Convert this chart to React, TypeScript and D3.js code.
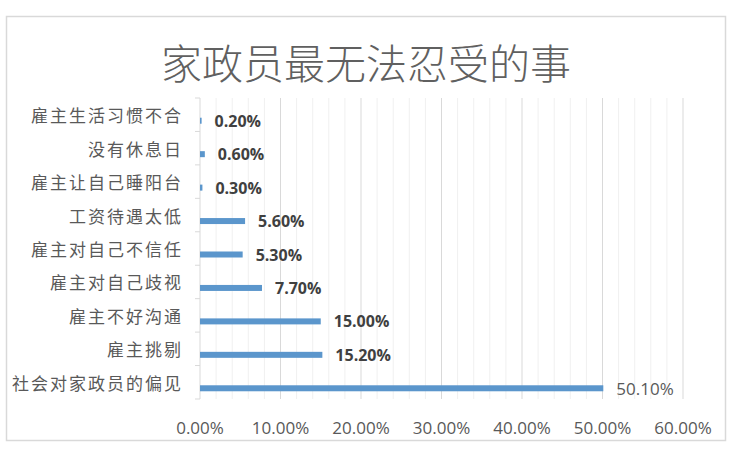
import * as React from 'react';
import { scaleBand, scaleLinear, range } from 'd3';

const categories = [
    '雇主生活习惯不合',
    '没有休息日',
    '雇主让自己睡阳台',
    '工资待遇太低',
    '雇主对自己不信任',
    '雇主对自己歧视',
    '雇主不好沟通',
    '雇主挑剔',
    '社会对家政员的偏见'
];
const values = [0.2, 0.6, 0.3, 5.6, 5.3, 7.7, 15.0, 15.2, 50.1];
const xTicks = [0, 10, 20, 30, 40, 50, 60];
const title = '家政员最无法忍受的事';

const W = 750;
const H = 460;
const plot = { left: 200, right: 683, top: 98, bottom: 399 };

const xScale = scaleLinear().domain([0, 60]).range([plot.left, plot.right]);
const yScale = scaleBand<string>().domain(categories).range([plot.top, plot.bottom]);

const cjk = '"Noto Sans CJK SC", sans-serif';
const latin = '"Open Sans", "Liberation Sans", sans-serif';

const App = () => {
    const bw = yScale.bandwidth();
    const barH = 6;
    const barShift = 6;
    return (
        <svg width={W} height={H} style={{ position: 'absolute', left: 0, top: 0, background: '#fff' }}>
            <rect x={6.5} y={16.5} width={719} height={424} fill="#fff" stroke="#d9d9d9" strokeWidth={1.5} />
            <text x={366} y={61} textAnchor="middle" dominantBaseline="central"
                fontFamily={cjk} fontSize={41} fontWeight={300} fill="#606060">{title}</text>

            {/* minor grid every 2% */}
            {range(0, 61, 2).filter(v => v % 10 !== 0).map(v => (
                <line key={'m' + v} x1={xScale(v)} x2={xScale(v)} y1={plot.top} y2={plot.bottom}
                    stroke="#f0f0f0" strokeWidth={1} />
            ))}
            {xTicks.filter(v => v > 0).map(v => (
                <line key={'g' + v} x1={xScale(v)} x2={xScale(v)} y1={plot.top} y2={plot.bottom}
                    stroke="#d9d9d9" strokeWidth={1} />
            ))}

            {/* category axis */}
            <line x1={plot.left} x2={plot.left} y1={plot.top} y2={plot.bottom} stroke="#d9d9d9" />
            {range(categories.length + 1).map(i => (
                <line key={'t' + i} x1={plot.left - 5} x2={plot.left}
                    y1={plot.top + i * bw} y2={plot.top + i * bw} stroke="#d9d9d9" />
            ))}

            {categories.map((c, i) => {
                const yc = yScale(c)! + bw / 2;
                const big = values[i] > 40;
                return (
                    <g key={c}>
                        <text x={183} y={yc} textAnchor="end" dominantBaseline="central"
                            fontFamily={cjk} fontSize={17} letterSpacing={2} fill="#595959">{c}</text>
                        <rect x={xScale(0)} y={yc + barShift - barH / 2}
                            width={xScale(values[i]) - xScale(0)} height={barH} fill="#5b96cc" />
                        <text x={xScale(values[i]) + 13} y={yc + barShift} dominantBaseline="central"
                            fontFamily={latin} fontSize={big ? 17 : 16} fontWeight={big ? 400 : 700}
                            fill={big ? '#595959' : '#404040'}>
                            {values[i].toFixed(2) + '%'}
                        </text>
                    </g>
                );
            })}

            {xTicks.map(v => (
                <text key={'x' + v} x={xScale(v)} y={427} textAnchor="middle" dominantBaseline="central"
                    fontFamily={latin} fontSize={17} fill="#595959">{v.toFixed(2) + '%'}</text>
            ))}
        </svg>
    );
};

export default App;
